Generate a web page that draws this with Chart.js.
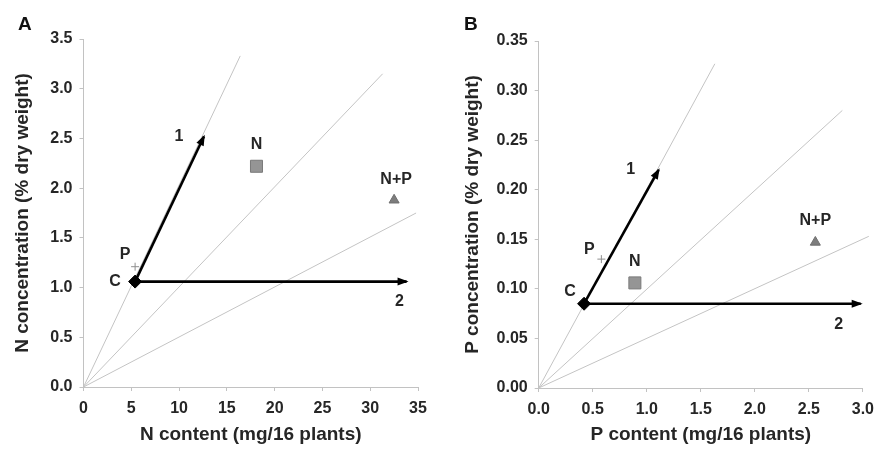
<!DOCTYPE html>
<html>
<head>
<meta charset="utf-8">
<script src="https://cdn.jsdelivr.net/npm/chart.js@4.4.1/dist/chart.umd.min.js"></script>
<style>
  html, body { margin: 0; padding: 0; background: #ffffff; }
  #wrap { position: relative; width: 882px; height: 451px; overflow: hidden; }
  .panel { position: absolute; top: 0; width: 441px; height: 451px; }
  #pa { left: 0; }
  #pb { left: 441px; }
</style>
</head>
<body>
<div id="wrap">
  <div class="panel" id="pa"><canvas id="ca" width="441" height="451"></canvas></div>
  <div class="panel" id="pb"><canvas id="cb" width="441" height="451"></canvas></div>
</div>
<script>
// ---------------- DATA ----------------
// Panel A: nitrogen
const A_xTicks = [0, 5, 10, 15, 20, 25, 30, 35];
const A_yTicks = [0.0, 0.5, 1.0, 1.5, 2.0, 2.5, 3.0, 3.5];
const A_C = [5.4, 1.06];
const A_P = [5.4, 1.21];
const A_N = [18.1, 2.22];
const A_NP = [32.5, 1.88];
const A_arrow1End = [12.6, 2.52];
const A_arrow2End = [33.8, 1.06];
const A_refLineEnds = [[16.4, 3.33], [31.3, 3.15], [34.8, 1.75]];

// Panel B: phosphorus
const B_xTicks = [0.0, 0.5, 1.0, 1.5, 2.0, 2.5, 3.0];
const B_yTicks = [0.00, 0.05, 0.10, 0.15, 0.20, 0.25, 0.30, 0.35];
const B_C = [0.42, 0.085];
const B_P = [0.58, 0.130];
const B_N = [0.89, 0.106];
const B_NP = [2.56, 0.147];
const B_arrow1End = [1.11, 0.220];
const B_arrow2End = [2.98, 0.085];
const B_refLineEnds = [[1.63, 0.327], [2.81, 0.280], [3.055, 0.153]];

// ---------------- STYLE ----------------
const FONT = "'Liberation Sans', Arial, Helvetica, sans-serif";
const TEXT = '#262626';
const AXIS = '#c2c2c2';
const REF = '#c4c4c4';

const pt = a => ({ x: a[0], y: a[1] });

// arrowheads + point labels + panel letter
const annot = {
  id: 'annot',
  afterDatasetsDraw(chart) {
    const ctx = chart.ctx;
    chart.data.datasets.forEach((ds, i) => {
      const meta = chart.getDatasetMeta(i);
      if (!meta.data.length) return;
      if (ds.arrow) {
        const p0 = meta.data[meta.data.length - 2], p1 = meta.data[meta.data.length - 1];
        const ang = Math.atan2(p1.y - p0.y, p1.x - p0.x);
        const L = 9, W = 4;
        ctx.save();
        ctx.fillStyle = ds.borderColor;
        ctx.beginPath();
        ctx.moveTo(p1.x + Math.cos(ang) * 2, p1.y + Math.sin(ang) * 2);
        ctx.lineTo(p1.x - Math.cos(ang) * L + Math.sin(ang) * W, p1.y - Math.sin(ang) * L - Math.cos(ang) * W);
        ctx.lineTo(p1.x - Math.cos(ang) * L - Math.sin(ang) * W, p1.y - Math.sin(ang) * L + Math.cos(ang) * W);
        ctx.closePath();
        ctx.fill();
        ctx.restore();
      }
      if (ds.tag) {
        const el = meta.data[meta.data.length - 1];
        ctx.save();
        ctx.font = 'bold 16px ' + FONT;
        ctx.fillStyle = TEXT;
        ctx.textAlign = 'center';
        ctx.textBaseline = 'middle';
        ctx.fillText(ds.tag, el.x + ds.tagOffset[0], el.y + ds.tagOffset[1]);
        ctx.restore();
      }
    });
    const o = chart.options.plugins.annot;
    ctx.save();
    ctx.font = 'bold 19px ' + FONT;
    ctx.fillStyle = '#111';
    ctx.textAlign = 'left';
    ctx.textBaseline = 'alphabetic';
    ctx.fillText(o.letter, o.lx, o.ly);
    ctx.restore();
  }
};

function makeChart(id, cfg) {
  const refs = cfg.refLineEnds.map(e => ({
    type: 'line', data: [{ x: 0, y: 0 }, pt(e)], borderColor: REF, borderWidth: 1,
    pointRadius: 0, showLine: true, order: 3, clip: false
  }));
  const arrows = [
    { data: [pt(cfg.C), pt(cfg.arrow1End)], tag: '1', tagOffset: cfg.off1 },
    { data: [pt(cfg.C), pt(cfg.arrow2End)], tag: '2', tagOffset: cfg.off2 }
  ].map(a => Object.assign({
    type: 'line', borderColor: '#000', borderWidth: 2.6, pointRadius: 0,
    showLine: true, arrow: true, order: 2, clip: false
  }, a));
  const marks = [
    { data: [pt(cfg.P)], pointStyle: 'cross', pointRadius: 4, borderColor: '#8f8f8f', borderWidth: 1,
      backgroundColor: '#8f8f8f', tag: 'P', tagOffset: cfg.offP },
    { data: [pt(cfg.N)], pointStyle: 'rect', pointRadius: 8.5, borderColor: '#7a7a7a', borderWidth: 1,
      backgroundColor: '#959595', tag: 'N', tagOffset: cfg.offN },
    { data: [pt(cfg.NP)], pointStyle: 'triangle', pointRadius: 5.8, borderColor: '#6e6e6e', borderWidth: 1,
      backgroundColor: '#7d7d7d', tag: 'N+P', tagOffset: cfg.offNP },
    { data: [pt(cfg.C)], pointStyle: 'rectRot', pointRadius: 6.5, borderColor: '#000', borderWidth: 1,
      backgroundColor: '#000', tag: 'C', tagOffset: cfg.offC }
  ].map(m => Object.assign({ type: 'scatter', order: 0, clip: false, pointHoverRadius: m.pointRadius }, m));

  const tickFont = { family: FONT, size: 16, weight: 'bold' };
  const titleFont = { family: FONT, size: 19, weight: 'bold' };

  return new Chart(document.getElementById(id), {
    type: 'scatter',
    data: { datasets: [...marks, ...arrows, ...refs] },
    options: {
      responsive: false,
      animation: false,
      events: [],
      layout: { padding: { top: cfg.area.top, right: 441 - cfg.area.right, bottom: 0, left: 0 } },
      plugins: {
        legend: { display: false },
        tooltip: { enabled: false },
        annot: { letter: cfg.letter, lx: cfg.letterPos[0], ly: cfg.letterPos[1] }
      },
      scales: {
        x: {
          type: 'linear', min: cfg.xTicks[0], max: cfg.xTicks[cfg.xTicks.length - 1],
          afterBuildTicks: s => { s.ticks = cfg.xTicks.map(v => ({ value: v })); },
          afterFit: s => { s.height = 451 - cfg.area.bottom; },
          ticks: { font: tickFont, color: TEXT, padding: 8, maxRotation: 0, autoSkip: false,
                   callback: v => v.toFixed(cfg.xDec) },
          grid: { drawOnChartArea: false, color: AXIS, tickLength: 4, lineWidth: 1 },
          border: { color: AXIS, width: 1 },
          title: { display: true, text: cfg.xTitle, font: titleFont, color: TEXT, padding: { top: 0, bottom: 4.6 } }
        },
        y: {
          type: 'linear', min: cfg.yTicks[0], max: cfg.yTicks[cfg.yTicks.length - 1],
          afterBuildTicks: s => { s.ticks = cfg.yTicks.map(v => ({ value: v })); },
          afterFit: s => { s.width = cfg.area.left; },
          ticks: { font: tickFont, color: TEXT, padding: 7, autoSkip: false,
                   callback: v => v.toFixed(cfg.yDec) },
          grid: { drawOnChartArea: false, color: AXIS, tickLength: 4, lineWidth: 1 },
          border: { color: AXIS, width: 1 },
          title: { display: true, text: cfg.yTitle, font: titleFont, color: TEXT, padding: { top: cfg.yTitlePad, bottom: 0 } }
        }
      }
    },
    plugins: [annot]
  });
}

makeChart('ca', {
  letter: 'A', letterPos: [18, 30],
  area: { left: 83.5, right: 418, top: 39, bottom: 387 },
  xTicks: A_xTicks, yTicks: A_yTicks, xDec: 0, yDec: 1,
  xTitle: 'N content (mg/16 plants)', yTitle: 'N concentration (% dry weight)', yTitlePad: 11.6,
  C: A_C, P: A_P, N: A_N, NP: A_NP, arrow1End: A_arrow1End, arrow2End: A_arrow2End, refLineEnds: A_refLineEnds,
  off1: [-25, 0], off2: [-7, 20], offP: [-10, -12], offN: [0, -22], offNP: [2, -20], offC: [-20, 0]
});

makeChart('cb', {
  letter: 'B', letterPos: [23, 30],
  area: { left: 97.7, right: 429, top: 41, bottom: 388 },
  xTicks: B_xTicks, yTicks: B_yTicks, xDec: 1, yDec: 2,
  xTitle: 'P content (mg/16 plants)', yTitle: 'P concentration (% dry weight)', yTitlePad: 20.6,
  C: B_C, P: B_P, N: B_N, NP: B_NP, arrow1End: B_arrow1End, arrow2End: B_arrow2End, refLineEnds: B_refLineEnds,
  off1: [-28, 0], off2: [-22, 21], offP: [-12, -10], offN: [0, -21], offNP: [0, -22], offC: [-14, -12]
});
</script>
</body>
</html>
